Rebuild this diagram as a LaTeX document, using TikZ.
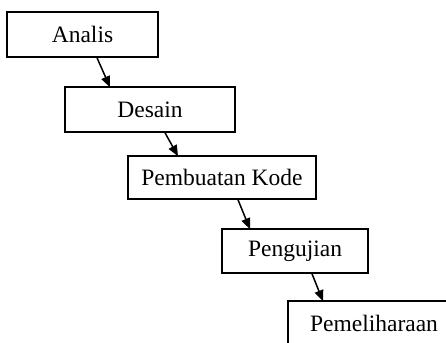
\documentclass[tikz,border=0pt]{standalone}
\usepackage{fontspec}
\setmainfont{Liberation Serif}
\usetikzlibrary{arrows.meta}
\begin{document}
\begin{tikzpicture}[x=1pt,y=-1pt,
  stage/.style={draw,line width=1.5pt,inner sep=0pt,minimum height=45pt,
    font=\fontsize{23.5}{27}\selectfont},
  flow/.style={line width=1.5pt,-{Triangle[length=11pt,width=9pt]}}]
\useasboundingbox (0,0) rectangle (446,342);
\clip (0,0) rectangle (446,342);
\node[stage,minimum width=151pt] (a) at (82.5,34.5) {Analis};
\node[stage,minimum width=170pt] (d) at (150,109.5) {Desain};
\node[stage,minimum width=188pt,minimum height=43pt] (p) at (222,177.5) {Pembuatan Kode};
\node[stage,minimum width=146pt,minimum height=44pt] (u) at (295,251) {Pengujian};
\node[stage,minimum width=172pt] (m) at (374,323.5) {Pemeliharaan};
\draw[flow] ([xshift=14.5pt]a.south) -- ([xshift=-40pt,yshift=-1pt]d.north);
\draw[flow] ([xshift=15pt]d.south) -- ([xshift=-44pt,yshift=-1pt]p.north);
\draw[flow] ([xshift=16pt]p.south) -- ([xshift=-45pt,yshift=-1pt]u.north);
\draw[flow] ([xshift=17pt]u.south) -- ([xshift=-51pt,yshift=-1pt]m.north);
\end{tikzpicture}
\end{document}
